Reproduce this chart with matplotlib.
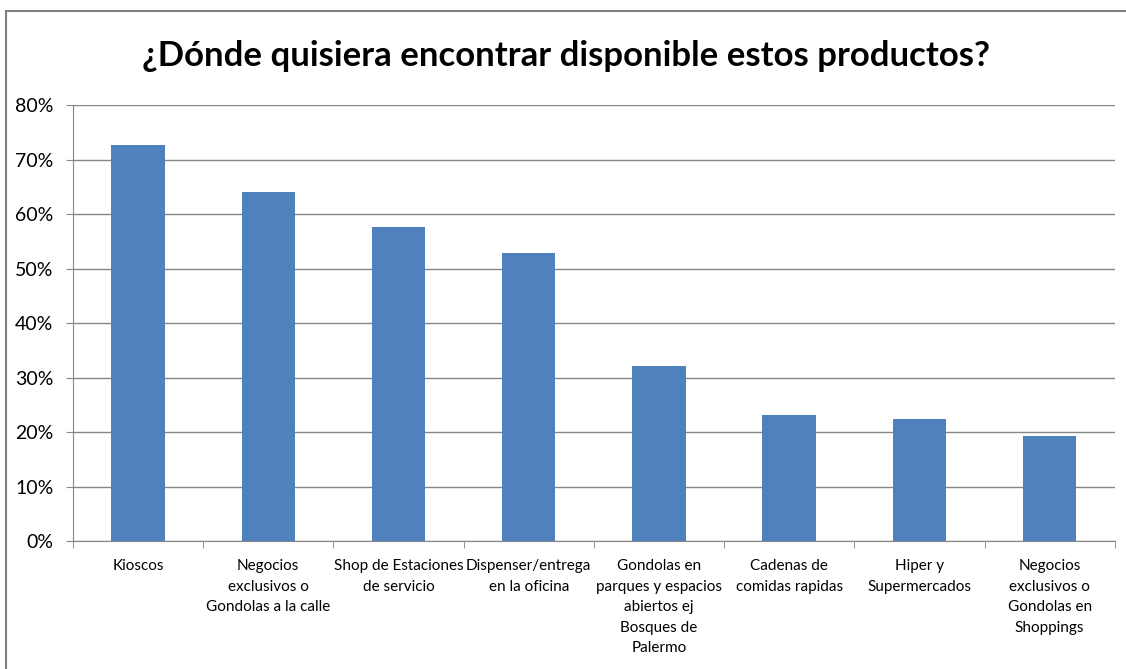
import matplotlib
matplotlib.use("Agg")
import matplotlib.pyplot as plt
from matplotlib.patches import Rectangle
from matplotlib.ticker import PercentFormatter
import numpy as np

plt.rcParams['font.family'] = ['Lato', 'DejaVu Sans']

# DATA
categories = [
    "Kioscos",
    "Negocios\nexclusivos o\nGondolas a la calle",
    "Shop de Estaciones\nde servicio",
    "Dispenser/entrega\nen la oficina",
    "Gondolas en\nparques y espacios\nabiertos ej\nBosques de\nPalermo",
    "Cadenas de\ncomidas rapidas",
    "Hiper y\nSupermercados",
    "Negocios\nexclusivos o\nGondolas en\nShoppings",
]
values = [72.7, 64.0, 57.6, 52.8, 32.1, 23.1, 22.4, 19.3]
yticks = [0, 10, 20, 30, 40, 50, 60, 70, 80]

grid_color = "#868686"
bar_color = "#4F81BD"

fig = plt.figure(figsize=(11.26, 6.69), dpi=100)
ax = fig.add_axes([0.0648, 0.1913, 0.9252, 0.6517])

x = np.arange(len(categories))
ax.bar(x, values, width=0.41, color=bar_color, zorder=3)

ax.set_xlim(-0.5, len(categories) - 0.5)
ax.set_ylim(0, 80)
ax.set_yticks(yticks)
ax.yaxis.set_major_formatter(PercentFormatter(decimals=0))
ax.grid(axis="y", color=grid_color, linewidth=1, zorder=0)

# category labels at centers, tick marks on boundaries
ax.set_xticks(x)
ax.set_xticklabels(categories, fontsize=11, linespacing=1.6, va="top")
ax.set_xticks(np.arange(-0.5, len(categories) + 0.5, 1), minor=True)
ax.tick_params(axis="x", which="major", length=0, pad=13)
ax.tick_params(axis="x", which="minor", length=5, color=grid_color)
ax.tick_params(axis="y", length=5, color=grid_color, labelsize=14, pad=9)

for side in ["top", "right"]:
    ax.spines[side].set_visible(False)
ax.spines["left"].set_color(grid_color)
ax.spines["bottom"].set_color(grid_color)

fig.text(0.503, 0.917, "¿Dónde quisiera encontrar disponible estos productos?",
         ha="center", va="center", fontsize=25, fontweight="bold")

# outer chart border
fig.patches.append(Rectangle((6 / 1126, -0.05), 1.1, 1 - 11 / 669 + 0.05,
                             transform=fig.transFigure, fill=False,
                             edgecolor="#7f7f7f", linewidth=1.5))

fig.savefig("out.png", dpi=100)
